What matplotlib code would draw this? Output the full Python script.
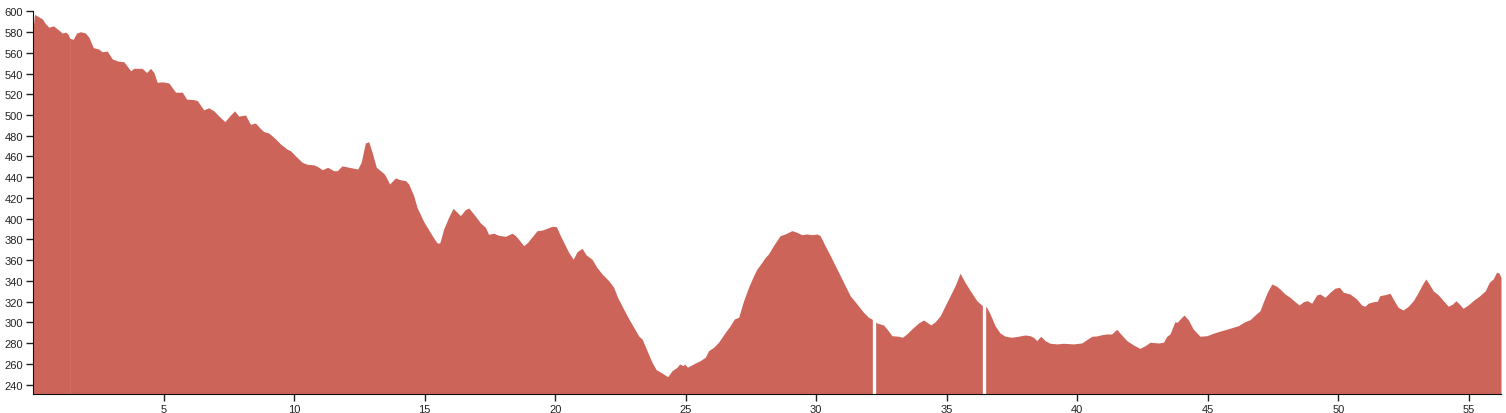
import matplotlib
matplotlib.use('Agg')
from matplotlib import pyplot as plt

# distance (km) and elevation (m)
km = [0.00, 0.06, 0.36, 0.48, 0.61, 0.78, 0.93, 1.03, 1.12, 1.25, 1.34, 1.41, 1.54, 1.67, 1.82,
      2.01, 2.14, 2.31, 2.52, 2.65, 2.84, 3.04, 3.25, 3.48, 3.74, 3.86, 4.18, 4.35, 4.50, 4.63,
      4.76, 4.95, 5.20, 5.46, 5.72, 5.88, 6.16, 6.29, 6.54, 6.73, 6.93, 7.12, 7.35, 7.53, 7.72,
      7.88, 8.14, 8.33, 8.52, 8.71, 8.84, 9.03, 9.29, 9.48,
      9.74, 9.86, 10.12, 10.31, 10.50, 10.75, 10.88, 11.08, 11.29, 11.52, 11.65, 11.84, 12.03,
      12.22, 12.44, 12.57, 12.73, 12.86, 12.99, 13.15, 13.31, 13.43, 13.50, 13.66, 13.88, 14.07,
      14.27, 14.39, 14.58, 14.71, 14.97, 15.10, 15.29, 15.48, 15.58, 15.73, 15.92, 16.09, 16.22,
      16.37, 16.56, 16.69, 16.88, 17.14, 17.33, 17.45, 17.65, 17.84, 18.09, 18.35, 18.48, 18.64,
      18.79, 18.95, 19.05,
      19.31, 19.50, 19.69, 19.88, 20.05, 20.20, 20.39, 20.52, 20.69, 20.84, 21.03, 21.19, 21.41,
      21.60, 21.80, 22.05, 22.24, 22.39, 22.62, 22.81, 23.01, 23.20, 23.33, 23.52, 23.71, 23.87,
      24.09, 24.31, 24.48, 24.67, 24.77, 24.90, 24.96, 25.07, 25.30, 25.56, 25.75, 25.88, 26.07,
      26.26, 26.52, 26.71, 26.86, 27.03, 27.22, 27.41, 27.60, 27.73, 27.92, 28.05, 28.17, 28.36,
      28.62,
      28.81, 29.07, 29.26, 29.45, 29.64, 29.84, 30.03, 30.15, 30.34, 30.54, 30.73, 30.92, 31.11,
      31.30, 31.56, 31.81, 32.00, 32.13, 32.32, 32.58, 32.71, 32.90, 33.15, 33.30, 33.47, 33.66,
      33.92, 34.11, 34.24, 34.39, 34.56, 34.75, 34.94, 35.13, 35.32, 35.51, 35.70, 35.90, 36.15,
      36.32, 36.53, 36.66, 36.85, 37.04, 37.24, 37.49, 37.74, 38.00, 38.19,
      38.32, 38.45, 38.60, 38.77, 38.96, 39.22, 39.47, 39.85, 40.17, 40.36, 40.56, 40.75, 40.94,
      41.13, 41.32, 41.51, 41.70, 41.90, 42.15, 42.40, 42.60, 42.79, 43.11, 43.30, 43.43, 43.55,
      43.74, 43.83, 43.94, 44.09, 44.25, 44.44, 44.70, 44.96, 45.21, 45.53, 45.85, 46.17, 46.42,
      46.62, 46.81, 47.00, 47.12, 47.28, 47.45, 47.64, 47.76,
      47.96, 48.15, 48.34, 48.50, 48.66, 48.81, 48.98, 49.17, 49.30, 49.49, 49.68, 49.87, 50.04,
      50.19, 50.45, 50.70, 50.89, 51.02, 51.14, 51.34, 51.49, 51.59, 51.79, 51.98, 52.10, 52.29,
      52.48, 52.68, 52.87, 53.06, 53.23, 53.35, 53.48, 53.63, 53.83, 54.02, 54.21, 54.38, 54.50,
      54.63, 54.78, 54.97, 55.16, 55.42, 55.63, 55.78, 55.93, 56.06, 56.15, 56.23]

elev = [583, 597, 592.6, 588, 584.6, 586, 583, 581, 579, 580, 578, 574, 573, 579, 580.3,
        579, 575, 565, 563.6, 561, 561.7, 554, 552, 551.4, 542.7, 545, 545, 541, 545, 541,
        531.5, 532, 531, 522, 522, 515.4, 514.8, 514, 505, 507, 504, 499, 493.6, 499, 504,
        499, 500, 491, 492.3, 487, 484, 482.7, 477, 472,
        467, 465.6, 459, 454.4, 452.5, 452, 450.6, 447.3, 449.6, 446.3, 446.3, 451, 450,
        449, 448, 454.4, 473, 474.3, 464, 449.6, 446.3, 443.8, 441.5, 433.5, 439.3, 437.6,
        436.7, 433.5, 422.3, 411, 397, 391.7, 383.7, 376.6, 376.6, 390, 401.4, 410, 406.8,
        403, 408.7, 410.4, 404.6, 396, 391.7, 385, 386, 384, 383, 386, 383.7, 379,
        374, 377.3, 380.5,
        388.5, 389, 390.8, 392.7, 392.3, 383.7, 374, 367.6, 361, 368.2, 371.5, 365, 361,
        353, 346.7, 340.3, 334, 324.3, 313, 304, 295.3, 287, 284, 272.8, 261.6, 254.5,
        251.3, 247.7, 253.5, 256.8, 260, 258.3, 260, 256.8, 260, 263.2, 266.4, 272.8, 276,
        280.9, 290.5, 297, 303.3, 305, 321, 334, 345, 351.5, 358, 362.8, 366, 374,
        383.7,
        385.3, 388.5, 386.9, 384.6, 385.3, 384.6, 385.3, 383.7, 374, 364.4, 354.7, 345.1, 335.4,
        325.8, 317.8, 309.8, 305, 303.3, 299.5, 297.5, 293.7, 287.2, 286.7, 285.7, 288.9, 293.7,
        299.5, 302.4, 300.2, 297.6, 300.7, 306.5, 316.2, 325.8, 335.4, 347.4, 338.7, 330.6, 321,
        317.1, 314.6, 308.2, 296.9, 289.8, 286.7, 285.7, 286.7, 287.9, 287.2,
        285.7, 282.4, 286.7, 282.4, 279.9, 279.3, 279.9, 279.3, 280.2, 283.4, 286.7, 287, 288.2,
        288.9, 288.9, 293.4, 287.9, 282.4, 278.3, 275, 277.6, 280.9, 280.2, 280.9, 286.7, 288.9,
        300.7, 300.2, 303.3, 307.2, 302.7, 293.7, 286.7, 287.2, 289.6, 292.1, 294.4, 296.9, 300.7,
        302.7, 307.2, 311.3, 319.4, 329.1, 337.1, 334.9, 332.3,
        327.4, 324.2, 320, 316.8, 320, 321, 318.5, 326.5, 327.4, 324.2, 329.1, 333, 333.9,
        329.1, 327.4, 322.6, 316.8, 315.6, 318.5, 320, 320.4, 325.8, 326.8, 328.1, 322.6, 314.6,
        312, 315.6, 321, 329.1, 337.1, 341.9, 337.1, 330.6, 326.5, 321, 315.6, 317.8, 321,
        317.8, 313.7, 316.8, 321, 325.8, 330.6, 338.7, 341.9, 348.4, 347.7, 343.5]

gaps_km = [32.20, 36.41]
seam_idx = 11  # faint seam where two track segments join

y_ticks = list(range(240, 601, 20))
x_ticks = list(range(5, 56, 5))
y_min = 231

fig = plt.figure(figsize=(15.06, 4.14), dpi=100)
ax = fig.add_axes([33 / 1506, 19 / 414, 1468 / 1506, 382.7 / 414])

ax.fill_between(km, elev, y_min, color='#cd645a', linewidth=0)
ax.vlines(km[seam_idx], y_min, elev[seam_idx] - 2, color='#d4766c', linewidth=0.8, alpha=0.6)
for g in gaps_km:
    ax.axvline(g, color='white', linewidth=2.4)

ax.set_xlim(0, 56.23)
ax.set_ylim(y_min, 600)
ax.set_yticks(y_ticks)
ax.set_xticks(x_ticks)
ax.tick_params(labelsize=8, length=5, width=1, colors='#222222', pad=2)
for lab in ax.get_xticklabels() + ax.get_yticklabels():
    lab.set_family('Liberation Sans')

ax.spines['top'].set_visible(False)
ax.spines['right'].set_visible(False)
ax.spines['left'].set_color('#111111')
ax.spines['bottom'].set_color('#111111')

plt.savefig('out.png', dpi=100)
